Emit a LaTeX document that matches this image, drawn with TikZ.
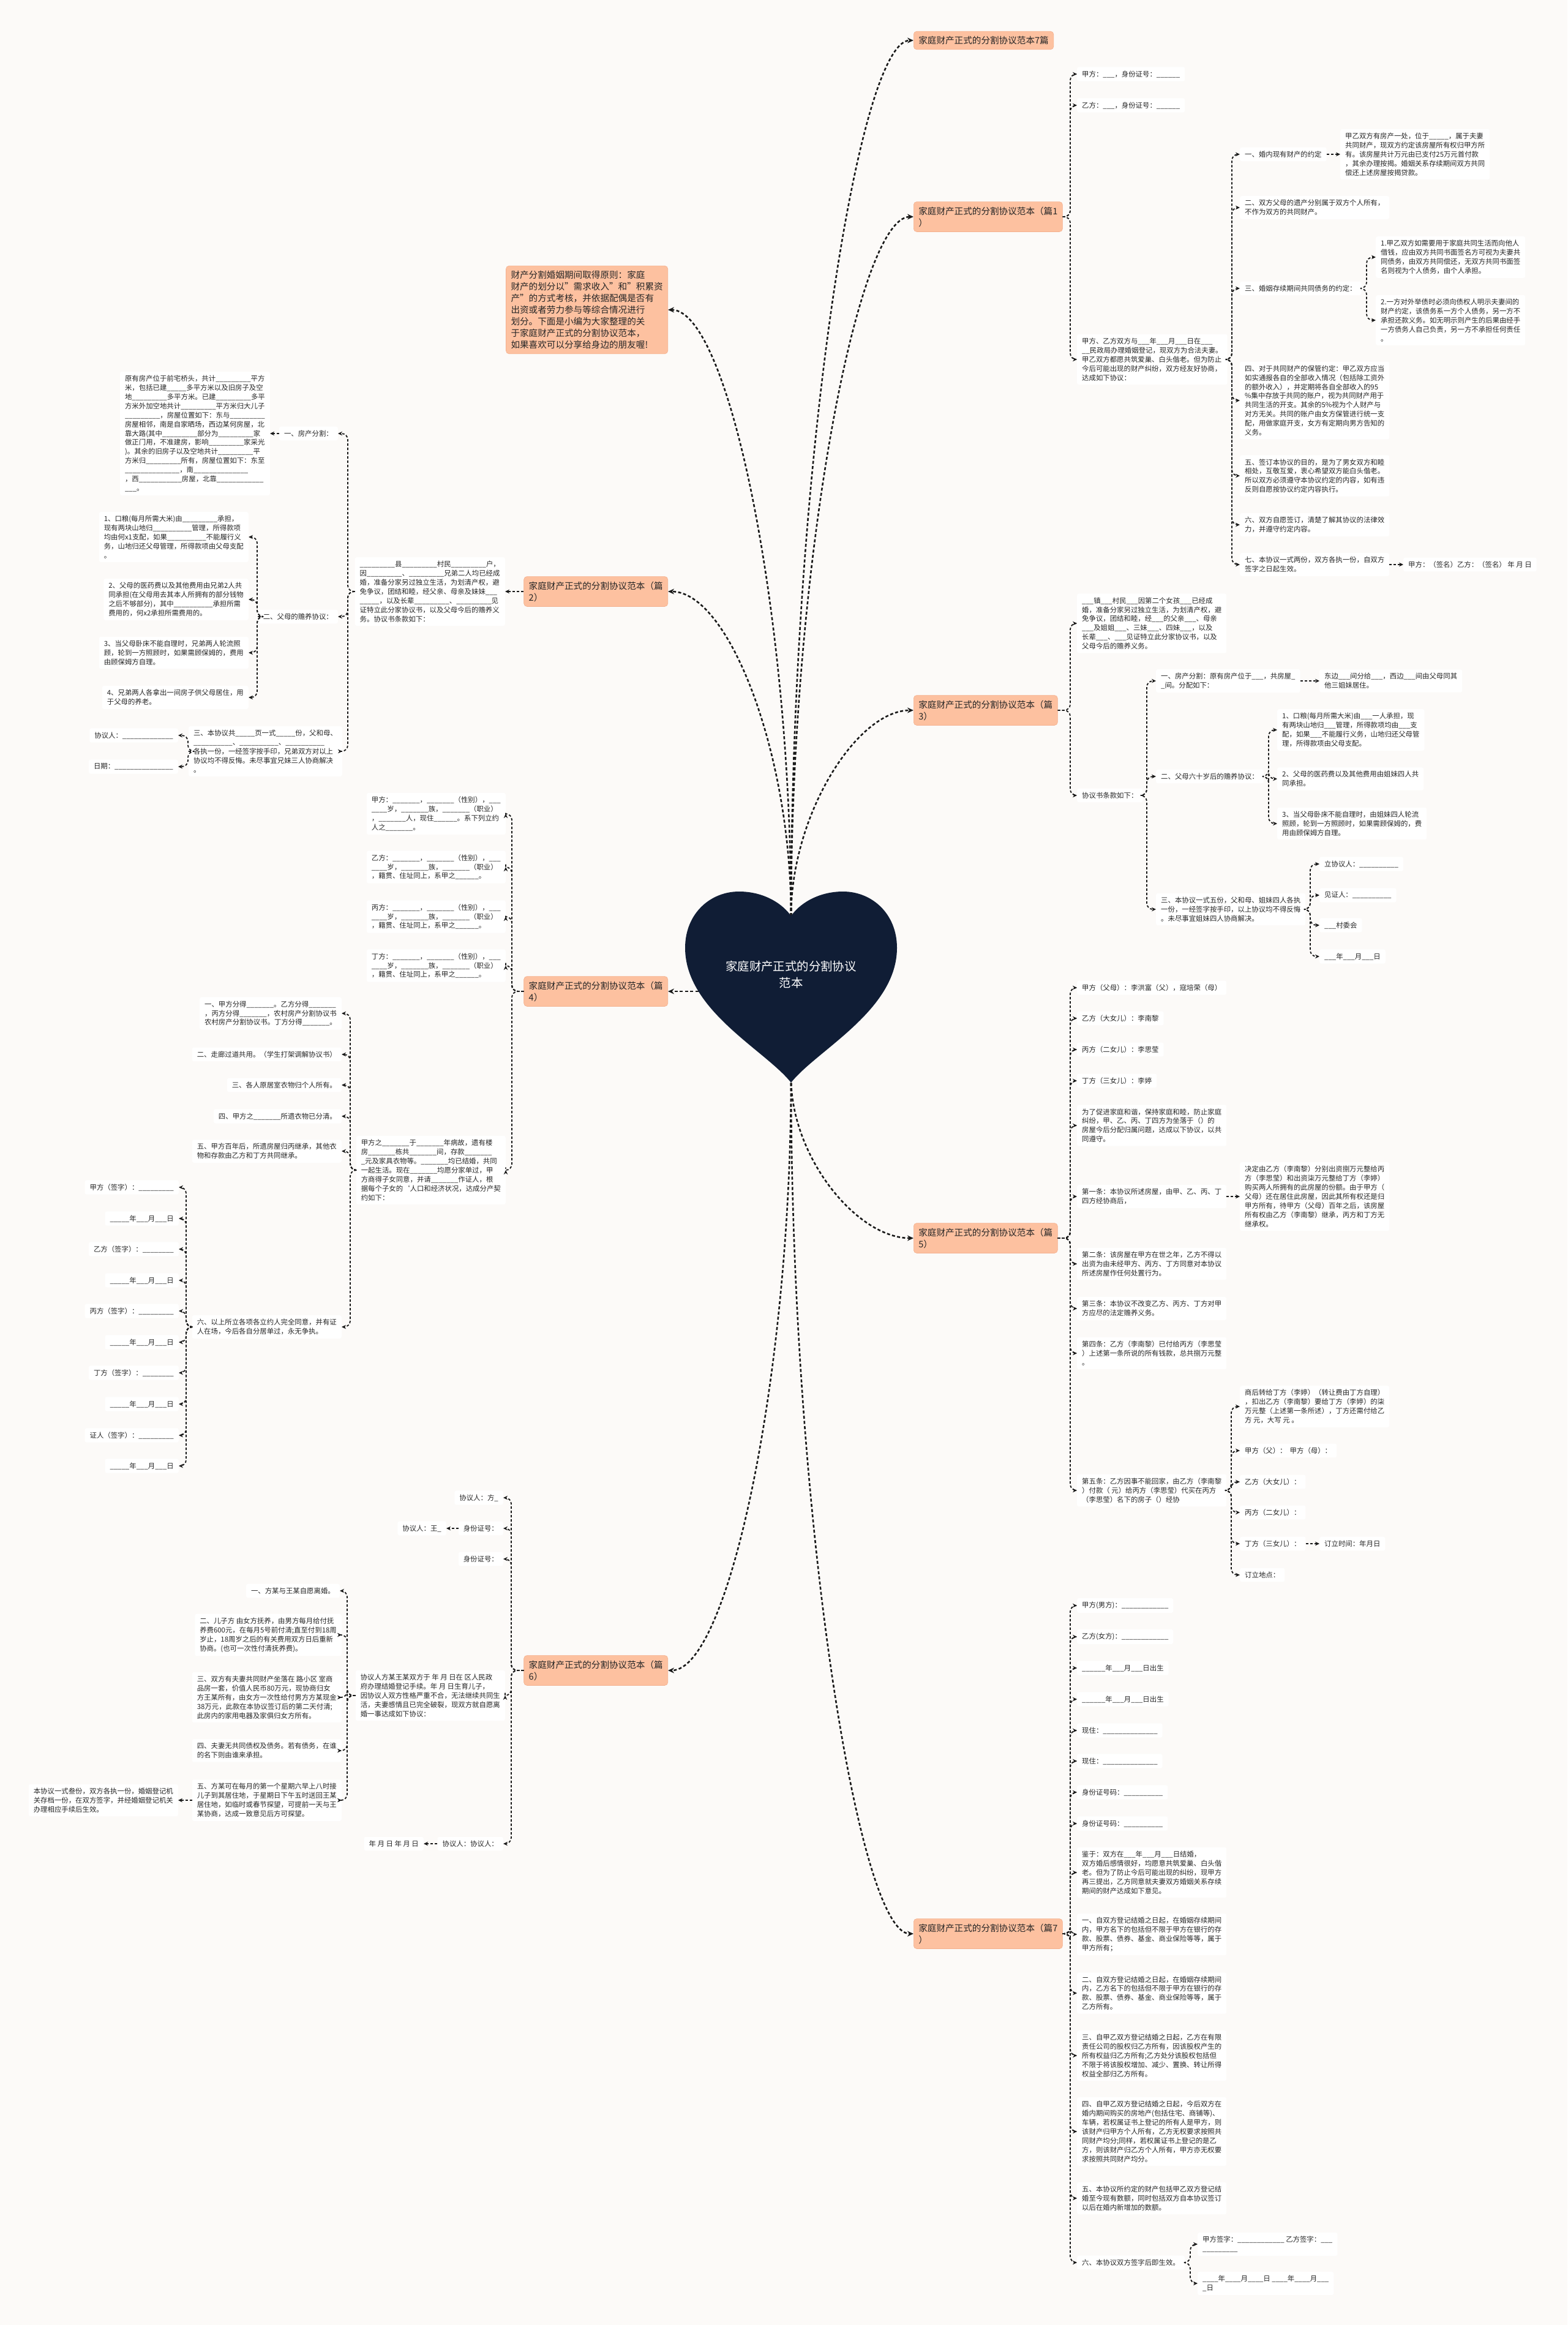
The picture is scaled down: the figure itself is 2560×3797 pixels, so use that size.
\documentclass[tikz,border=0pt]{standalone}
\usepackage{fontspec}
\setmainfont{Noto Sans CJK SC}
\usetikzlibrary{arrows.meta}
\definecolor{bgc}{HTML}{FCFAF8}
\definecolor{brc}{HTML}{FDC1A0}
\definecolor{brd}{HTML}{F4B08E}
\definecolor{hrt}{HTML}{101D35}
\definecolor{txt}{HTML}{262626}
\newcommand\conR[3]{\draw[conn] (#1.east) -- (#1.east -| #3) |- (#2.west);}
\newcommand\conL[3]{\draw[conn] (#1.west) -- (#1.west -| #3) |- (#2.east);}
\newcommand\conSR[2]{\draw[conn] (#1.east) -- (#2.west);}
\newcommand\conSL[2]{\draw[conn] (#1.west) -- (#2.east);}
\begin{document}
\catcode`\_=12
\begin{tikzpicture}[x=1pt,y=-1pt,
  leaf/.style={fill=white, rounded corners=3pt, inner xsep=8pt, inner ysep=6pt, align=left, text=txt, font=\fontsize{11.4}{14.9}\selectfont},
  rleaf/.style={leaf, anchor=west},
  lleaf/.style={leaf, anchor=east},
  branch/.style={fill=brc, draw=brd, line width=0.6pt, rounded corners=5pt, inner xsep=8pt, inner ysep=8pt, align=left, text=txt, font=\fontsize{14.6}{19}\selectfont},
  main/.style={draw=black!90, line width=2.6pt, dash pattern=on 5pt off 3.5pt, -{Stealth[length=10pt,width=9pt]}},
  conn/.style={draw=black!90, line width=1.8pt, dash pattern=on 4pt off 3pt, rounded corners=10pt, -{Stealth[length=7pt,width=6.5pt]}}]
\fill[bgc] (0,0) rectangle (2560,3797);
\useasboundingbox (0,0) rectangle (2560,3797);

% heart anchor points
\coordinate (HT) at (1292,1496);
\coordinate (HB) at (1292,1760);
\coordinate (HL) at (1200,1619);

% trunk coordinates
\coordinate (tR) at (1748,0);
\coordinate (tc3) at (2012,0);
\coordinate (td3) at (2232,0);
\coordinate (tf2) at (1873,0);
\coordinate (tg2) at (2072,0);
\coordinate (tg3) at (2140,0);
\coordinate (ti10) at (2011,0);
\coordinate (tm15) at (1944,0);
\coordinate (tp1) at (568,0);
\coordinate (tq2) at (420,0);
\coordinate (tq3) at (307,0);
\coordinate (tB4) at (836,0);
\coordinate (ts5) at (572,0);
\coordinate (tt6) at (304,0);
\coordinate (tB6) at (835,0);
\coordinate (tv4) at (567,0);

% ===== branch nodes =====
\node[branch, anchor=west] (B7t) at (1492,66) {家庭财产正式的分割协议范本7篇};
\node[branch, anchor=west] (B1) at (1492,354) {家庭财产正式的分割协议范本（篇1\\）};
\node[branch, anchor=west] (B3) at (1492,1160) {家庭财产正式的分割协议范本（篇\\3）};
\node[branch, anchor=west] (B5) at (1492,2022) {家庭财产正式的分割协议范本（篇\\5）};
\node[branch, anchor=west] (B7) at (1492,3158) {家庭财产正式的分割协议范本（篇7\\）};
\node[branch, anchor=east] (intro) at (1091,506) {财产分割婚姻期间取得原则：家庭\\财产的划分以"需求收入"和"积累资\\产"的方式考核，并依据配偶是否有\\出资或者劳力参与等综合情况进行\\划分。下面是小编为大家整理的关\\于家庭财产正式的分割协议范本，\\如果喜欢可以分享给身边的朋友喔!};
\node[branch, anchor=east] (B2) at (1091,966) {家庭财产正式的分割协议范本（篇\\2）};
\node[branch, anchor=east] (B4) at (1091,1619) {家庭财产正式的分割协议范本（篇\\4）};
\node[branch, anchor=east] (B6) at (1091,2728) {家庭财产正式的分割协议范本（篇\\6）};

% ===== 篇1 =====
\node[rleaf] (c1) at (1759,121) {甲方：___，身份证号：______};
\node[rleaf] (c2) at (1759,172) {乙方：___，身份证号：______};
\node[rleaf] (c3) at (1759,587) {甲方、乙方双方与___年___月___日在___\\__民政局办理婚姻登记，现双方为合法夫妻。\\甲乙双方都愿共筑爱巢、白头偕老。但为防止\\今后可能出现的财产纠纷，双方经友好协商，\\达成如下协议：};
\node[rleaf] (d1) at (2025,252) {一、婚内现有财产的约定};
\node[rleaf] (e1) at (2189,252) {甲乙双方有房产一处，位于_____，属于夫妻\\共同财产，现双方约定该房屋所有权归甲方所\\有。该房屋共计万元由已支付25万元首付款\\，其余办理按揭。婚姻关系存续期间双方共同\\偿还上述房屋按揭贷款。};
\node[rleaf] (d2) at (2025,339) {二、双方父母的遗产分别属于双方个人所有，\\不作为双方的共同财产。};
\node[rleaf] (d3) at (2025,471) {三、婚姻存续期间共同债务的约定：};
\node[rleaf] (e2) at (2247,420) {1.甲乙双方如需要用于家庭共同生活而向他人\\借钱，应由双方共同书面签名方可视为夫妻共\\同债务，由双方共同偿还，无双方共同书面签\\名则视为个人债务，由个人承担。};
\node[rleaf] (e3) at (2247,523) {2.一方对外举债时必须向债权人明示夫妻间的\\财产约定，该债务系一方个人债务，另一方不\\承担还款义务。如无明示则产生的后果由经手\\一方债务人自己负责，另一方不承担任何责任\\。};
\node[rleaf] (d4) at (2025,654) {四、对于共同财产的保管约定：甲乙双方应当\\如实通报各自的全部收入情况（包括除工资外\\的额外收入），并定期将各自全部收入的95\\\%集中存放于共同的账户，视为共同财产用于\\共同生活的开支。其余的5\%视为个人财产与\\对方无关。共同的账户由女方保管进行统一支\\配，用做家庭开支，女方有定期向男方告知的\\义务。};
\node[rleaf] (d5) at (2025,777) {五、签订本协议的目的，是为了男女双方和睦\\相处，互敬互爱，衷心希望双方能白头偕老。\\所以双方必须遵守本协议约定的内容，如有违\\反则自愿按协议约定内容执行。};
\node[rleaf] (d6) at (2025,857) {六、双方自愿签订，清楚了解其协议的法律效\\力，并遵守约定内容。};
\node[rleaf] (d7) at (2025,922) {七、本协议一式两份，双方各执一份，自双方\\签字之日起生效。};
\node[rleaf] (e4) at (2292,922) {甲方：（签名）乙方：（签名） 年 月 日};

\conR{B1}{c1}{tR} \conR{B1}{c2}{tR} \conR{B1}{c3}{tR}
\conR{c3}{d1}{tc3} \conR{c3}{d2}{tc3} \conR{c3}{d3}{tc3} \conR{c3}{d4}{tc3}
\conR{c3}{d5}{tc3} \conR{c3}{d6}{tc3} \conR{c3}{d7}{tc3}
\conSR{d1}{e1} \conSR{d7}{e4}
\conR{d3}{e2}{td3} \conR{d3}{e3}{td3}

% ===== 篇3 =====
\node[rleaf] (f1) at (1759,1018) {___镇___村民___因第二个女孩___已经成\\婚，准备分家另过独立生活，为划清产权，避\\免争议，团结和睦，经___的父亲___、母亲\\___及姐姐___、三妹___、四妹___，以及\\长辈___、___见证特立此分家协议书，以及\\父母今后的赡养义务。};
\node[rleaf] (f2) at (1759,1299) {协议书条款如下：};
\node[rleaf] (g1) at (1888,1112) {一、房产分割：原有房产位于___，共房屋_\\_间。分配如下：};
\node[rleaf] (h1) at (2155,1112) {东边___间分给___，西边___间由父母同其\\他三姐妹居住。};
\node[rleaf] (g2) at (1888,1268) {二、父母六十岁后的赡养协议：};
\node[rleaf] (h2) at (2086,1192) {1、口粮(每月所需大米)由___一人承担，现\\有两块山地归___管理，所得款项均由___支\\配，如果___不能履行义务，山地归还父母管\\理，所得款项由父母支配。};
\node[rleaf] (h3) at (2086,1272) {2、父母的医药费以及其他费用由姐妹四人共\\同承担。};
\node[rleaf] (h4) at (2086,1345) {3、当父母卧床不能自理时，由姐妹四人轮流\\照顾，轮到一方照顾时，如果需顾保姆的，费\\用由顾保姆方自理。};
\node[rleaf] (g3) at (1888,1485) {三、本协议一式五份，父和母、姐妹四人各执\\一份，一经签字按手印，以上协议均不得反悔\\。未尽事宜姐妹四人协商解决。};
\node[rleaf] (h5) at (2155,1411) {立协议人：__________};
\node[rleaf] (h6) at (2155,1462) {见证人：__________};
\node[rleaf] (h7) at (2155,1511) {___村委会};
\node[rleaf] (h8) at (2155,1562) {___年___月___日};

\conR{B3}{f1}{tR} \conR{B3}{f2}{tR}
\conR{f2}{g1}{tf2} \conR{f2}{g2}{tf2} \conR{f2}{g3}{tf2}
\conSR{g1}{h1}
\conR{g2}{h2}{tg2} \conR{g2}{h3}{tg2} \conR{g2}{h4}{tg2}
\conR{g3}{h5}{tg3} \conR{g3}{h6}{tg3} \conR{g3}{h7}{tg3} \conR{g3}{h8}{tg3}

% ===== 篇5 =====
\node[rleaf] (i1) at (1759,1613) {甲方（父母）：李洪富（父），寇培荣（母）};
\node[rleaf] (i2) at (1759,1663) {乙方（大女儿）：李南黎};
\node[rleaf] (i3) at (1759,1714) {丙方（二女儿）：李思莹};
\node[rleaf] (i4) at (1759,1765) {丁方（三女儿）：李婷};
\node[rleaf] (i5) at (1759,1838) {为了促进家庭和谐，保持家庭和睦，防止家庭\\纠纷，甲、乙、丙、丁四方为坐落于（）的\\房屋今后分配归属问题，达成以下协议，以共\\同遵守。};
\node[rleaf] (i6) at (1759,1954) {第一条：本协议所述房屋，由甲、乙、丙、丁\\四方经协商后，};
\node[rleaf] (j1) at (2025,1954) {决定由乙方（李南黎）分别出资捌万元整给丙\\方（李思莹）和出资柒万元整给丁方（李婷）\\购买两人所拥有的此房屋的份额。由于甲方（\\父母）还在居住此房屋，因此其所有权还是归\\甲方所有，待甲方（父母）百年之后，该房屋\\所有权由乙方（李南黎）继承，丙方和丁方无\\继承权。};
\node[rleaf] (i7) at (1759,2064) {第二条：该房屋在甲方在世之年，乙方不得以\\出资为由未经甲方、丙方、丁方同意对本协议\\所述房屋作任何处置行为。};
\node[rleaf] (i8) at (1759,2137) {第三条：本协议不改变乙方、丙方、丁方对甲\\方应尽的法定赡养义务。};
\node[rleaf] (i9) at (1759,2210) {第四条：乙方（李南黎）已付给丙方（李思莹\\）上述第一条所说的所有钱款，总共捌万元整\\。};
\node[rleaf] (i10) at (1759,2434) {第五条：乙方因事不能回家，由乙方（李南黎\\）付款（ 元）给丙方（李思莹）代买在丙方\\（李思莹）名下的房子（）经协};
\node[rleaf] (k1) at (2025,2297) {商后转给丁方（李婷）（转让费由丁方自理）\\，扣出乙方（李南黎）要给丁方（李婷）的柒\\万元整（上述第一条所述），丁方还需付给乙\\方 元，大写 元 。};
\node[rleaf] (k2) at (2025,2369) {甲方（父）：\ \ 甲方（母）：};
\node[rleaf] (k3) at (2025,2420) {乙方（大女儿）：};
\node[rleaf] (k4) at (2025,2470) {丙方（二女儿）：};
\node[rleaf] (k5) at (2025,2521) {丁方（三女儿）：};
\node[rleaf] (l1) at (2155,2521) {订立时间：年月日};
\node[rleaf] (k6) at (2025,2572) {订立地点：};

\foreach \n in {i1,i2,i3,i4,i5,i6,i7,i8,i9,i10} {\conR{B5}{\n}{tR}}
\conSR{i6}{j1}
\foreach \n in {k1,k2,k3,k4,k5,k6} {\conR{i10}{\n}{ti10}}
\conSR{k5}{l1}

% ===== 篇7 =====
\node[rleaf] (m1) at (1759,2622) {甲方(男方)：____________};
\node[rleaf] (m2) at (1759,2673) {乙方(女方)：____________};
\node[rleaf] (m3) at (1759,2724) {______年___月___日出生};
\node[rleaf] (m4) at (1759,2775) {______年___月___日出生};
\node[rleaf] (m5) at (1759,2826) {现住：______________};
\node[rleaf] (m6) at (1759,2876) {现住：______________};
\node[rleaf] (m7) at (1759,2927) {身份证号码：__________};
\node[rleaf] (m8) at (1759,2978) {身份证号码：__________};
\node[rleaf] (m9) at (1759,3058) {鉴于：双方在___年___月___日结婚，\\双方婚后感情很好，均愿意共筑爱巢、白头偕\\老。但为了防止今后可能出现的纠纷，现甲方\\再三提出，乙方同意就夫妻双方婚姻关系存续\\期间的财产达成如下意见。};
\node[rleaf] (m10) at (1759,3159) {一、自双方登记结婚之日起，在婚姻存续期间\\内，甲方名下的包括但不限于甲方在银行的存\\款、股票、债券、基金、商业保险等等，属于\\甲方所有；};
\node[rleaf] (m11) at (1759,3255) {二、自双方登记结婚之日起，在婚姻存续期间\\内，乙方名下的包括但不限于甲方在银行的存\\款、股票、债券、基金、商业保险等等，属于\\乙方所有。};
\node[rleaf] (m12) at (1759,3357) {三、自甲乙双方登记结婚之日起，乙方在有限\\责任公司的股权归乙方所有，因该股权产生的\\所有权益归乙方所有;乙方处分该股权包括但\\不限于将该股权增加、减少、置换、转让所得\\权益全部归乙方所有。};
\node[rleaf] (m13) at (1759,3481) {四、自甲乙双方登记结婚之日起，今后双方在\\婚内期间购买的房地产(包括住宅、商铺等)、\\车辆，若权属证书上登记的所有人是甲方，则\\该财产归甲方个人所有，乙方无权要求按照共\\同财产均分;同样，若权属证书上登记的是乙\\方，则该财产归乙方个人所有，甲方亦无权要\\求按照共同财产均分。};
\node[rleaf] (m14) at (1759,3590) {五、本协议所约定的财产包括甲乙双方登记结\\婚至今现有数额，同时包括双方自本协议签订\\以后在婚内新增加的数额。};
\node[rleaf] (m15) at (1759,3695) {六、本协议双方签字后即生效。};
\node[rleaf] (n1) at (1956,3665) {甲方签字：____________ 乙方签字：___\\_________};
\node[rleaf] (n2) at (1956,3729) {____年____月____日 ____年____月___\\_日};

\foreach \n in {m1,m2,m3,m4,m5,m6,m7,m8,m9,m10,m11,m12,m13,m14,m15} {\conR{B7}{\n}{tR}}
\conR{m15}{n1}{tm15} \conR{m15}{n2}{tm15}

% ===== 篇2 (left) =====
\node[lleaf] (p1) at (825,966) {_________县_________村民_________户，\\因_________、_________兄弟二人均已经成\\婚，准备分家另过独立生活，为划清产权，避\\免争议，团结和睦，经父亲、母亲及妹妹___\\_____，以及长辈_________、_________见\\证特立此分家协议书，以及父母今后的赡养义\\务。协议书条款如下：};
\node[lleaf] (q1) at (552,708) {一、房产分割：};
\node[lleaf] (r1) at (441,708) {原有房产位于前宅桥头，共计_________平方\\米，包括已建_____多平方米以及旧房子及空\\地_________多平方米。已建_________多平\\方米外加空地共计_________平方米归大儿子\\_________，房屋位置如下：东与_________\\房屋相邻，南是自家晒场，西边某何房屋，北\\靠大路(其中_________部分为_________家\\做正门用，不准建房，影响_________家采光\\)。其余的旧房子以及空地共计_________平\\方米归_________所有，房屋位置如下：东至\\______________，南______________\\，西___________房屋，北靠____________\\___。};
\node[lleaf] (q2) at (552,1007) {二、父母的赡养协议：};
\node[lleaf] (r2) at (406,877) {1、口粮(每月所需大米)由_________承担，\\现有两块山地归__________管理，所得款项\\均由何x1支配，如果__________不能履行义\\务，山地归还父母管理，所得款项由父母支配\\。};
\node[lleaf] (r3) at (406,979) {2、父母的医药费以及其他费用由兄弟2人共\\同承担(在父母用去其本人所拥有的部分钱物\\之后不够部分)，其中__________承担所需\\费用的，何x2承担所需费用的。};
\node[lleaf] (r4) at (406,1066) {3、当父母卧床不能自理时，兄弟两人轮流照\\顾，轮到一方照顾时，如果需顾保姆的，费用\\由顾保姆方自理。};
\node[lleaf] (r5) at (406,1139) {4、兄弟两人各拿出一间房子供父母居住，用\\于父母的养老。};
\node[lleaf] (q3) at (559,1227) {三、本协议共_____页一式_____份，父和母、\\__________、__________、__________\\各执一份，一经签字按手印，兄弟双方对以上\\协议均不得反悔。未尽事宜兄妹三人协商解决\\。};
\node[lleaf] (r6) at (291,1201) {协议人：_____________};
\node[lleaf] (r7) at (291,1252) {日期：_______________};

\conSL{B2}{p1}
\conL{p1}{q1}{tp1} \conL{p1}{q2}{tp1} \conL{p1}{q3}{tp1}
\conSL{q1}{r1}
\conL{q2}{r2}{tq2} \conL{q2}{r3}{tq2} \conL{q2}{r4}{tq2} \conL{q2}{r5}{tq2}
\conL{q3}{r6}{tq3} \conL{q3}{r7}{tq3}

% ===== 篇4 (left) =====
\node[lleaf] (s1) at (826,1329) {甲方：_______，_______（性别），___\\____岁，_______族，_______（职业）\\，_______人，现住______。系下列立约\\人之_______。};
\node[lleaf] (s2) at (826,1416) {乙方：_______，_______（性别），___\\____岁，_______族，_______（职业）\\，籍贯、住址同上，系甲之______。};
\node[lleaf] (s3) at (826,1497) {丙方：_______，_______（性别），___\\____岁，_______族，_______（职业）\\，籍贯、住址同上，系甲之______。};
\node[lleaf] (s4) at (826,1577) {丁方：_______，_______（性别），___\\____岁，_______族，_______（职业）\\，籍贯、住址同上，系甲之______。};
\node[lleaf] (s5) at (826,1911) {甲方之_______于_______年病故，遗有楼\\房_______栋共_______间，存款_______\\_元及家具衣物等。_______均已结婚，共同\\一起生活。现在_______均愿分家单过，甲\\方商得子女同意，并请_______作证人，根\\据每个子女的`人口和经济状况，达成分产契\\约如下：};
\node[lleaf] (t1) at (558,1655) {一、甲方分得_______。乙方分得_______\\，丙方分得_______，农村房产分割协议书\\农村房产分割协议书。丁方分得_______。};
\node[lleaf] (t2) at (558,1722) {二、走廊过道共用。（学生打架调解协议书）};
\node[lleaf] (t3) at (558,1772) {三、各人原居室衣物归个人所有。};
\node[lleaf] (t4) at (558,1823) {四、甲方之_______所遗衣物已分清。};
\node[lleaf] (t5) at (558,1880) {五、甲方百年后，所遗房屋归丙继承，其他衣\\物和存款由乙方和丁方共同继承。};
\node[lleaf] (t6) at (558,2167) {六、以上所立各项各立约人完全同意，并有证\\人在场，今后各自分居单过，永无争执。};
\node[lleaf] (u1) at (292,1939) {甲方（签字）：_________};
\node[lleaf] (u2) at (292,1990) {_____年___月___日};
\node[lleaf] (u3) at (292,2040) {乙方（签字）：________};
\node[lleaf] (u4) at (292,2091) {_____年___月___日};
\node[lleaf] (u5) at (292,2141) {丙方（签字）：_________};
\node[lleaf] (u6) at (292,2192) {_____年___月___日};
\node[lleaf] (u7) at (292,2242) {丁方（签字）：________};
\node[lleaf] (u8) at (292,2293) {_____年___月___日};
\node[lleaf] (u9) at (292,2344) {证人（签字）：_________};
\node[lleaf] (u10) at (292,2394) {_____年___月___日};

\foreach \n in {s1,s2,s3,s4,s5} {\conL{B4}{\n}{tB4}}
\foreach \n in {t1,t2,t3,t4,t5,t6} {\conL{s5}{\n}{ts5}}
\foreach \n in {u1,u2,u3,u4,u5,u6,u7,u8,u9,u10} {\conL{t6}{\n}{tt6}}

% ===== 篇6 (left) =====
\node[lleaf] (v1) at (822,2446) {协议人：方_};
\node[lleaf] (v2) at (822,2496) {身份证号：};
\node[lleaf] (w1) at (729,2496) {协议人：王_};
\node[lleaf] (v3) at (822,2546) {身份证号：};
\node[lleaf] (v4) at (825,2769) {协议人方某王某双方于 年 月 日在 区人民政\\府办理结婚登记手续。年 月 日生育儿子，\\因协议人双方性格严重不合，无法继续共同生\\活，夫妻感情且已完全破裂，现双方就自愿离\\婚一事达成如下协议：};
\node[lleaf] (x1) at (555,2598) {一、方某与王某自愿离婚。};
\node[lleaf] (x2) at (558,2670) {二、儿子方 由女方抚养，由男方每月给付抚\\养费600元，在每月5号前付清;直至付到18周\\岁止，18周岁之后的有关费用双方日后重新\\协商。(也可一次性付清抚养费)。};
\node[lleaf] (x3) at (558,2772) {三、双方有夫妻共同财产坐落在 路小区 室商\\品房一套，价值人民币80万元，现协商归女\\方王某所有，由女方一次性给付男方方某现金\\38万元，此款在本协议签订后的第二天付清;\\此房内的家用电器及家俱归女方所有。};
\node[lleaf] (x4) at (558,2859) {四、夫妻无共同债权及债务。若有债务，在谁\\的名下则由谁来承担。};
\node[lleaf] (x5) at (558,2940) {五、方某可在每月的第一个星期六早上八时接\\儿子到其居住地，于星期日下午五时送回王某\\居住地，如临时或春节探望，可提前一天与王\\某协商，达成一致意见后方可探望。};
\node[lleaf] (y1) at (291,2940) {本协议一式叁份，双方各执一份，婚姻登记机\\关存档一份，在双方签字，并经婚姻登记机关\\办理相应手续后生效。};
\node[lleaf] (v5) at (822,3011) {协议人：协议人：};
\node[lleaf] (w2) at (692,3011) {年 月 日 年 月 日};

\foreach \n in {v1,v2,v3,v4,v5} {\conL{B6}{\n}{tB6}}
\conSL{v2}{w1} \conSL{v5}{w2}
\foreach \n in {x1,x2,x3,x4,x5} {\conL{v4}{\n}{tv4}}
\conSL{x5}{y1}

% ===== main connectors =====
\draw[main] (HT) .. controls (1292,780) and (1400,66) .. (B7t.west);
\draw[main] (HT) .. controls (1292,924) and (1400,354) .. (B1.west);
\draw[main] (HT) .. controls (1292,1330) and (1400,1160) .. (B3.west);
\draw[main] (HB) .. controls (1292,1890) and (1400,2022) .. (B5.west);
\draw[main] (HB) .. controls (1292,2460) and (1400,3158) .. (B7.west);
\draw[main] (HT) .. controls (1292,1000) and (1190,506) .. (intro.east);
\draw[main] (HT) .. controls (1292,1230) and (1190,966) .. (B2.east);
\draw[main] (HL) -- (B4.east);
\draw[main] (HB) .. controls (1292,2245) and (1190,2728) .. (B6.east);

% ===== heart =====
\fill[hrt] (1292,1768) .. controls (1250,1715) and (1119,1650) .. (1119,1548)
  .. controls (1119,1492) and (1160,1456) .. (1207,1456)
  .. controls (1250,1456) and (1280,1478) .. (1292,1496)
  .. controls (1304,1478) and (1334,1456) .. (1377,1456)
  .. controls (1424,1456) and (1465,1492) .. (1465,1548)
  .. controls (1465,1650) and (1334,1715) .. (1292,1768) -- cycle;
\node[text=white, align=center, font=\fontsize{19.4}{27}\selectfont] (root) at (1292,1592) {家庭财产正式的分割协议\\范本};
\end{tikzpicture}
\end{document}
